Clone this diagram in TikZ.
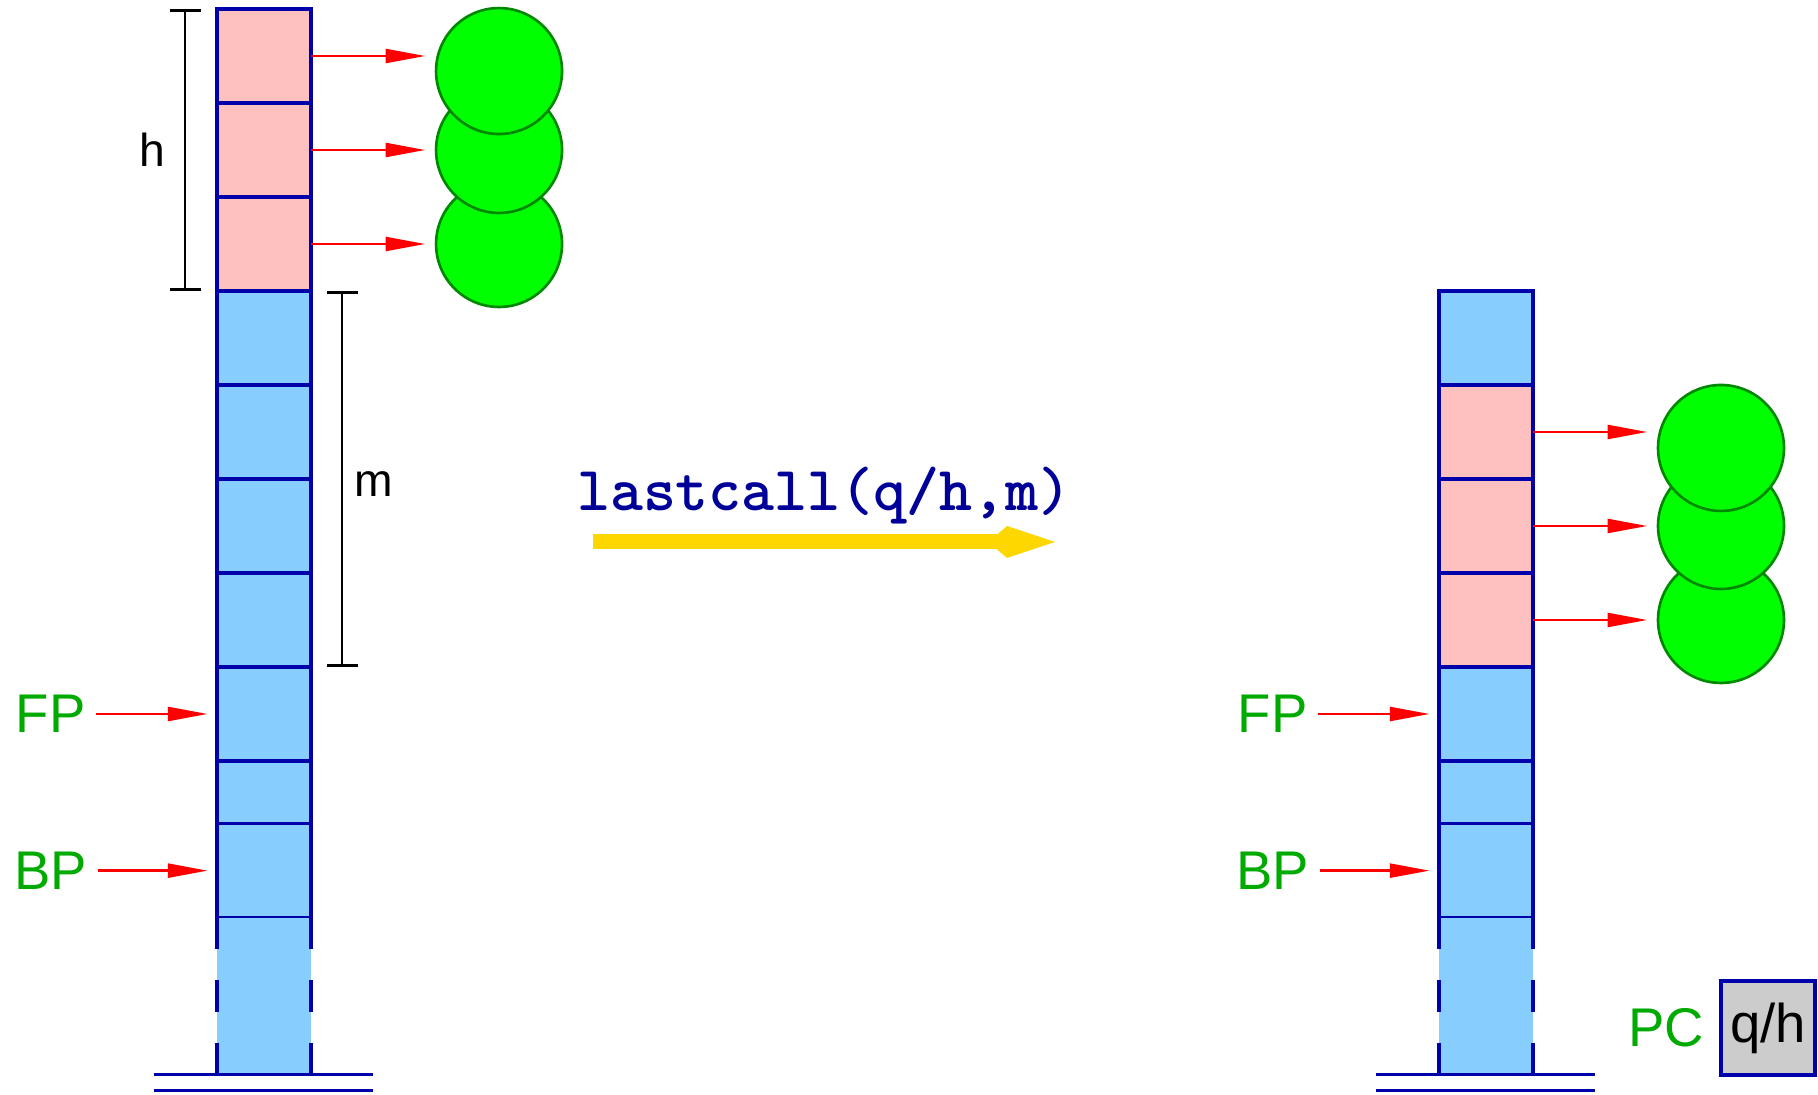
\documentclass[tikz,border=0pt]{standalone}
\usepackage{fontspec}
\setmainfont{Liberation Sans}
\usepackage{tikz}
\usetikzlibrary{arrows.meta,positioning}
\definecolor{edgeblue}{RGB}{0,0,170}
\definecolor{cellblue}{RGB}{135,206,255}
\definecolor{cellpink}{RGB}{255,192,192}
\definecolor{objgreen}{RGB}{0,255,0}
\definecolor{objedge}{RGB}{0,136,0}
\definecolor{labgreen}{RGB}{0,170,0}
\definecolor{callnavy}{RGB}{0,0,153}
\definecolor{callgold}{RGB}{255,215,0}
\definecolor{pcgray}{RGB}{204,204,204}

\begin{document}
\begin{tikzpicture}[
  cell/.style={rectangle,draw=edgeblue,fill=cellblue,line width=1pt,
               minimum width=1cm,minimum height=1cm,inner sep=0pt,outer sep=0pt},
  hot/.style={cell,fill=cellpink},
  tail/.style={cell,draw=none,minimum height=1.667cm},
  obj/.style={circle,draw=objedge,fill=objgreen,line width=0.8pt,
              minimum size=1.34cm,inner sep=0pt},
  ptr/.style={-{Triangle[length=12pt,width=4.2pt]},red,line width=0.8pt,shorten >=0.1cm},
  reg/.style={text=labgreen,inner sep=3pt,font=\fontsize{16.5}{20}\selectfont},
  span/.style={{Bar[width=0.33cm]}-{Bar[width=0.33cm]},line width=0.8pt},
  spanlab/.style={font=\fontsize{14}{17}\selectfont},
  floorline/.style={edgeblue,line width=0.8pt},
  sides/.style={edgeblue,line width=1pt,dash pattern=on 0.333cm off 0.333cm},
  call/.style={text=callnavy,font=\fontsize{19}{22}\selectfont\ttfamily\bfseries},
  callarrow/.style={-{Kite[length=0.71cm,width=0.34cm,inset=0.2cm]},callgold,line width=0.16cm}
]
\useasboundingbox (-2.309,-3.543) rectangle (17.032,8.096);

% stack before the call
\foreach \i in {0,...,4} \node[cell] (ls\i) at (0.5,\i+0.5) {};
\foreach \i in {5,6,7} \node[hot] (ls\i) at (0.5,\i+0.5) {};
\node[cell,minimum height=0.667cm] (lhalf) at (0.5,-1/3) {};
\node[cell] (lbp) at (0.5,-7/6) {};
\node[tail] (lbot) at (0.5,-5/2) {};
\draw[sides] (lbot.north west) -- (lbot.south west);
\draw[sides] (lbot.north east) -- (lbot.south east);
\draw[floorline] ([xshift=-0.67cm]lbot.south west) -- ([xshift=0.66cm]lbot.south east);
\draw[floorline] ([xshift=-0.67cm,yshift=-0.17cm]lbot.south west) -- ([xshift=0.66cm,yshift=-0.17cm]lbot.south east);

\node[obj] (la) at (3,5.5) {};
\node[obj] (lb) at (3,6.5) {};
\node[obj] (lc) at (3,7.34) {};
\draw[ptr] (ls5.east) -- (ls5.east -| la.west);
\draw[ptr] (ls6.east) -- (ls6.east -| lb.west);
\draw[ptr] (ls7.east) -- (ls7.east -| lc.west);

\draw[span] ([xshift=-0.34cm]ls5.south west) -- node[spanlab,left=0.08cm] (hlab) {h} ([xshift=-0.34cm]ls7.north west);
\draw[span] ([xshift=0.33cm]ls0.north east) -- node[spanlab,right,yshift=-0.05cm] (mlab) {m} ([xshift=0.33cm]ls4.north east);

\node[reg] (lfp) at (-1.77,0.5) {FP};
\node[reg] (lbpl) at (-1.77,-7/6) {BP};
\draw[ptr] (lfp) -- (ls0);
\draw[ptr] (lbpl) -- (lbp);

% the call
\node[call,anchor=base] (callname) at (6.46,2.66) {lastcall(q/h,m)};
\coordinate (callfrom) at (4,2.33);
\coordinate (callto) at (8.915,2.33);
\draw[callarrow] (callfrom) -- (callto);

% stack after the call
\foreach \i in {0,4} \node[cell] (rs\i) at (13.5,\i+0.5) {};
\foreach \i in {1,2,3} \node[hot] (rs\i) at (13.5,\i+0.5) {};
\node[cell,minimum height=0.667cm] (rhalf) at (13.5,-1/3) {};
\node[cell] (rbp) at (13.5,-7/6) {};
\node[tail] (rbot) at (13.5,-5/2) {};
\draw[sides] (rbot.north west) -- (rbot.south west);
\draw[sides] (rbot.north east) -- (rbot.south east);
\draw[floorline] ([xshift=-0.67cm]rbot.south west) -- ([xshift=0.66cm]rbot.south east);
\draw[floorline] ([xshift=-0.67cm,yshift=-0.17cm]rbot.south west) -- ([xshift=0.66cm,yshift=-0.17cm]rbot.south east);

\node[obj] (ra) at (16,1.5) {};
\node[obj] (rb) at (16,2.5) {};
\node[obj] (rc) at (16,3.33) {};
\draw[ptr] (rs1.east) -- (rs1.east -| ra.west);
\draw[ptr] (rs2.east) -- (rs2.east -| rb.west);
\draw[ptr] (rs3.east) -- (rs3.east -| rc.west);

\node[reg] (rfp) at (11.23,0.5) {FP};
\node[reg] (rbpl) at (11.23,-7/6) {BP};
\draw[ptr] (rfp) -- (rs0);
\draw[ptr] (rbpl) -- (rbp);

\node[cell,fill=pcgray,font=\fontsize{16.5}{20}\selectfont] (pc) at (16.5,-2.84) {q/h};
\node[reg,left=0.07cm of pc] (pclab) {PC};
\end{tikzpicture}
\end{document}
